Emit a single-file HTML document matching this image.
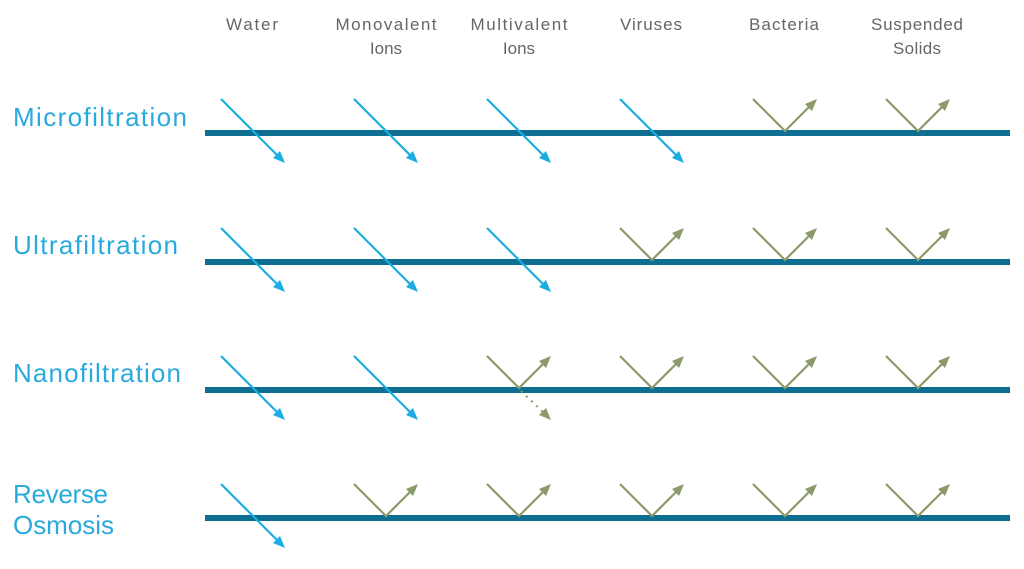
<!DOCTYPE html>
<html><head><meta charset="utf-8"><style>
body{margin:0;background:#fff;width:1024px;height:564px;overflow:hidden}
</style></head><body>
<svg width="1024" height="564" xmlns="http://www.w3.org/2000/svg" xmlns:xlink="http://www.w3.org/1999/xlink" font-family="Liberation Sans, sans-serif">
<defs>
<g id="p"><line x1="0" y1="-34" x2="58" y2="24" stroke="#1bade2" stroke-width="2.2"/><polygon points="64,30 59,18 52,25" fill="#1bade2"/></g>
<g id="r"><polyline points="0,-34 32,-2 58,-28" fill="none" stroke="#8a9a68" stroke-width="2.2"/><polygon points="64,-34 59,-22 52,-29" fill="#8a9a68"/></g>
</defs>
<g fill="#666" font-size="17" text-anchor="middle">
<text x="252" y="30" textLength="52">Water</text>
<text x="386" y="30" textLength="101">Monovalent</text><text x="386" y="54">Ions</text>
<text x="519" y="30" textLength="97">Multivalent</text><text x="519" y="54">Ions</text>
<text x="651" y="30" textLength="62">Viruses</text>
<text x="784" y="30" textLength="70">Bacteria</text>
<text x="917" y="30" textLength="92">Suspended</text><text x="917" y="54" textLength="48">Solids</text>
</g>
<g fill="#2aa9dc" font-size="26">
<text x="13" y="126" textLength="174">Microfiltration</text>
<text x="13" y="254" textLength="165">Ultrafiltration</text>
<text x="13" y="382" textLength="168">Nanofiltration</text>
<text x="13" y="503" textLength="95">Reverse</text><text x="13" y="534" textLength="101">Osmosis</text>
</g>
<g stroke="#0f6f93" stroke-width="6">
<line x1="205" y1="133" x2="1010" y2="133"/>
<line x1="205" y1="262" x2="1010" y2="262"/>
<line x1="205" y1="390" x2="1010" y2="390"/>
<line x1="205" y1="518" x2="1010" y2="518"/>
</g>
<g transform="translate(0,133)">
<use xlink:href="#p" x="221"/><use xlink:href="#p" x="354"/><use xlink:href="#p" x="487"/><use xlink:href="#p" x="620"/><use xlink:href="#r" x="753"/><use xlink:href="#r" x="886"/>
</g>
<g transform="translate(0,262)">
<use xlink:href="#p" x="221"/><use xlink:href="#p" x="354"/><use xlink:href="#p" x="487"/><use xlink:href="#r" x="620"/><use xlink:href="#r" x="753"/><use xlink:href="#r" x="886"/>
</g>
<g transform="translate(0,390)">
<use xlink:href="#p" x="221"/><use xlink:href="#p" x="354"/><use xlink:href="#r" x="487"/><use xlink:href="#r" x="620"/><use xlink:href="#r" x="753"/><use xlink:href="#r" x="886"/>
<g transform="translate(487,0)"><line x1="34" y1="1" x2="56" y2="22" stroke="#8a9a68" stroke-width="2" stroke-dasharray="2,5"/><polygon points="64,30 59,18 52,25" fill="#8a9a68"/></g>
</g>
<g transform="translate(0,518)">
<use xlink:href="#p" x="221"/><use xlink:href="#r" x="354"/><use xlink:href="#r" x="487"/><use xlink:href="#r" x="620"/><use xlink:href="#r" x="753"/><use xlink:href="#r" x="886"/>
</g>
</svg>
</body></html>
